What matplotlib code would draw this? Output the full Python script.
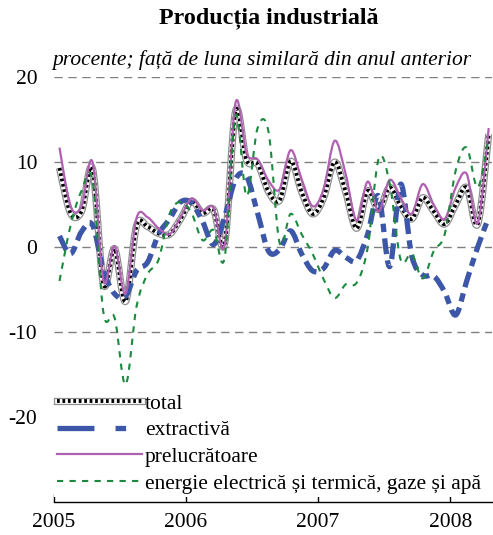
import numpy as np
import matplotlib.pyplot as plt
from matplotlib.path import Path
from matplotlib.patches import PathPatch
from matplotlib.lines import Line2D

plt.rcParams['font.family'] = ['Liberation Serif', 'DejaVu Serif']

# monthly data, Jan 2005 - Apr 2008 (% y/y)
years = ['2005', '2006', '2007', '2008']
total = [9.3, 4.0, 4.2, 9.2, -4.4, -0.2, -6.4, 2.5, 2.4, 1.6,
         1.5, 3.3, 5.4, 4.0, 4.4, 0.4, 16.0, 10.2, 9.8, 6.5,
         5.5, 10.1, 6.5, 3.9, 5.8, 10.0, 6.5, 2.2, 6.6, 4.4,
         7.0, 4.8, 3.3, 5.8, 4.2, 2.7, 5.0, 7.0, 2.7, 13.3]
extractiva = [1.3, -0.8, 1.8, 2.6, -2.8, -5.5, -5.8, -2.8, -1.8, 1.5,
              3.3, 5.3, 5.2, 3.0, 0.3, 3.5, 8.0, 8.3, 4.0, -0.5,
              -0.3, 1.9, -0.8, -2.8, -2.5, -0.4, -1.2, -1.6, 1.5, 6.0,
              -2.3, 7.4, -1.0, -3.3, -3.4, -5.3, -8.0, -4.0, 0.0, 3.5]
prelucratoare = [11.7, 4.8, 4.8, 10.0, -4.0, 0.1, -5.5, 3.4, 3.5, 2.2,
                 1.5, 3.5, 5.7, 4.3, 4.6, 0.2, 17.0, 11.0, 10.3, 7.8,
                 6.8, 11.4, 8.0, 4.8, 6.8, 12.5, 8.6, 3.1, 7.7, 4.2,
                 7.9, 5.8, 3.9, 7.4, 5.0, 3.3, 7.0, 8.6, 2.8, 14.0]
energie = [-4.0, 2.5, 6.6, 7.8, -7.8, -8.3, -16.2, -7.0, -3.2, -1.5,
           3.9, 5.3, 4.0, 0.8, 2.0, -1.3, 15.5, 6.0, 14.0, 13.5,
           0.5, 3.9, 1.5, -0.8, -3.8, -6.0, -4.4, -4.2, -0.1, 10.4,
           7.5, -1.5, -0.8, -3.7, -0.5, 1.5, 9.0, 11.7, 7.0, 12.9]

labels = ['total', 'extractivă', 'prelucrătoare',
          'energie electrică și termică, gaze și apă']


def smooth_path(y):
    # Excel-like smoothed line: cubic Bezier segments through the points
    pts = np.column_stack([np.arange(len(y)), y]).astype(float)
    pad = np.vstack([pts[0], pts, pts[-1]])
    verts = [pts[0]]
    codes = [Path.MOVETO]
    for i in range(len(pts) - 1):
        p0, p1, p2, p3 = pad[i], pad[i + 1], pad[i + 2], pad[i + 3]
        verts += [p1 + (p2 - p0) / 6, p2 - (p3 - p1) / 6, p2]
        codes += [Path.CURVE4] * 3
    return Path(verts, codes)


def add_curve(ax, y, **kw):
    patch = PathPatch(smooth_path(y), fill=False, joinstyle='round', **kw)
    ax.add_patch(patch)


fig = plt.figure(figsize=(4.93, 5.35), dpi=100)
ax = fig.add_axes([0.1095, 0.0617, 0.8885, 0.7943])

# the -20 line sits behind the legend in the original
for v in [20, 10, 0, -10]:
    ax.axhline(v, color='#808080', lw=1.0, ls=(0, (6, 4)), zorder=1)

blue = '#3c56a8'
purple = '#b060b0'
green = '#1b8a3e'

# total: checkered thick line
add_curve(ax, total, edgecolor='#8e8e8e', lw=5.2, zorder=2)
add_curve(ax, total, edgecolor='white', lw=3.4, zorder=2.1)
add_curve(ax, total, edgecolor='black', lw=2.8, linestyle=(0, (0.7, 0.7)), zorder=2.2)
add_curve(ax, extractiva, edgecolor=blue, lw=3.8, linestyle=(0, (3, 1.2, 1.6, 1.2)),
          capstyle='butt', zorder=3)
add_curve(ax, prelucratoare, edgecolor=purple, lw=1.6, zorder=4)
add_curve(ax, energie, edgecolor=green, lw=1.5, linestyle=(0, (3, 3)), zorder=5)

ax.set_xlim(-0.5, 39.3)
ax.set_ylim(-30, 20)

ax.set_xticks([-0.5 + 12 * k for k in range(len(years))])
ax.set_xticklabels(years, fontsize=15.5)
ax.set_yticks([20, 10, 0, -10, -20])
ax.set_yticklabels(['20', '10', '0', '-10', '-20'], fontsize=15.5)
ax.tick_params(axis='x', direction='in', length=6, width=1, pad=8)
ax.tick_params(axis='y', length=0, pad=12)
for s in ['top', 'left', 'right']:
    ax.spines[s].set_visible(False)
ax.spines['bottom'].set_linewidth(1.0)

# legend
h_total = (Line2D([], [], color='#8e8e8e', lw=5.2),
           Line2D([], [], color='white', lw=3.4),
           Line2D([], [], color='black', lw=2.8, ls=(0, (0.7, 0.7))))
h_ext = Line2D([], [], color=blue, lw=3.8, ls=(0, (7, 4, 2, 4)), solid_capstyle='butt')
h_pre = Line2D([], [], color=purple, lw=1.6)
h_en = Line2D([], [], color=green, lw=1.5, ls=(0, (3, 3)))
leg = ax.legend([h_total, h_ext, h_pre, h_en], labels, loc='upper left',
                bbox_to_anchor=(0.0, 0.263), borderaxespad=0, borderpad=0.15,
                fontsize=15.5, handlelength=3.95, handletextpad=0.12,
                labelspacing=0.31, frameon=True, fancybox=False)
leg.get_frame().set_facecolor('white')
leg.get_frame().set_edgecolor('none')
leg.get_frame().set_alpha(1)
leg.set_zorder(10)

fig.text(0.546, 0.966, 'Producția industrială', ha='center', va='center',
         fontsize=17.3, fontweight='bold')
fig.text(0.106, 0.887, 'procente; față de luna similară din anul anterior',
         ha='left', va='center', fontsize=15.5, style='italic')

fig.savefig('out.png', dpi=100)
